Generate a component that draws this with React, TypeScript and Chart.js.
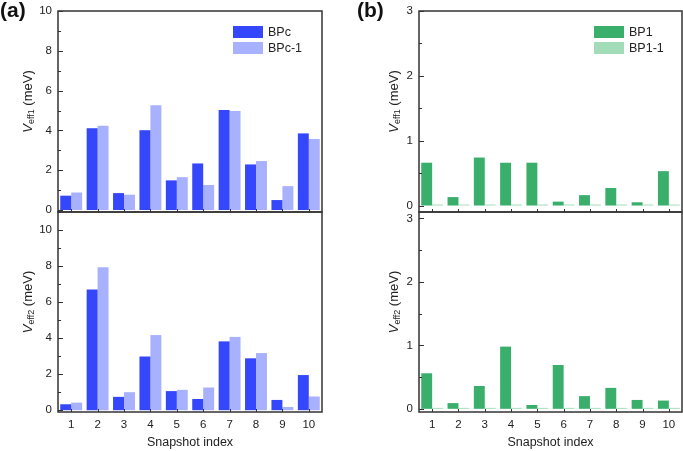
import React, { useEffect, useRef } from "react";
import { Chart, registerables } from "chart.js";
Chart.register(...registerables);

const snapshots = ["1", "2", "3", "4", "5", "6", "7", "8", "9", "10"];
const bpcVeff1 = [0.72, 4.11, 0.85, 4.01, 1.49, 2.34, 5.02, 2.29, 0.5, 3.85];
const bpc1Veff1 = [0.88, 4.24, 0.77, 5.27, 1.65, 1.26, 4.97, 2.46, 1.2, 3.57];
const bpcVeff2 = [0.33, 6.7, 0.74, 2.98, 1.06, 0.62, 3.82, 2.88, 0.57, 1.95];
const bpc1Veff2 = [0.42, 7.93, 1.0, 4.17, 1.13, 1.26, 4.07, 3.17, 0.18, 0.76];
const bp1Veff1 = [0.66, 0.13, 0.74, 0.66, 0.66, 0.06, 0.16, 0.27, 0.05, 0.53];
const bp11Veff1 = [0.015, 0.015, 0.015, 0.015, 0.015, 0.015, 0.015, 0.015, 0.015, 0.015];
const bp1Veff2 = [0.56, 0.09, 0.36, 0.98, 0.06, 0.69, 0.2, 0.33, 0.14, 0.13];
const bp11Veff2 = [0.015, 0.015, 0.015, 0.015, 0.015, 0.015, 0.015, 0.015, 0.015, 0.015];
const ticksA = [0, 2, 4, 6, 8, 10];
const ticksB = [0, 1, 2, 3];

const FONT = "'Liberation Sans', Arial, sans-serif";
const BLUE = "#3447fb";
const LBLUE = "#a8b1fd";
const GREEN = "#3aae6b";
const LGREEN = "#a2dcb9";

type Spec = {
  left: number;
  top: number;
  width: number;
  height: number;
  yWidth: number;
  pad: { left: number; right: number; top: number; bottom: number };
  xHeight: number | null;
  series: { label: string; data: number[]; color: string }[];
  yMin: number;
  yMax: number;
  majors: number[];
  minorStep: number;
  sub: string;
  titleX: number;
  legend: { x: number; y: number } | null;
  panelLabel: { text: string; x: number } | null;
  xTitleY: number | null;
};

function buildChart(canvas: HTMLCanvasElement, s: Spec) {
  const deco = {
    id: "deco",
    afterDraw(chart: any) {
      const ctx = chart.ctx;
      const a = chart.chartArea;
      const ys = chart.scales.y;
      const xs = chart.scales.x;
      ctx.save();
      ctx.strokeStyle = "#333";
      ctx.lineWidth = 1.5;
      ctx.strokeRect(a.left, a.top, a.right - a.left, a.bottom - a.top);
      ctx.lineWidth = 1;
      ctx.beginPath();
      for (const v of s.majors) {
        const y = Math.round(ys.getPixelForValue(v)) + 0.5;
        ctx.moveTo(a.left, y);
        ctx.lineTo(a.left + 5, y);
      }
      for (let v = s.minorStep; v < s.yMax; v += 2 * s.minorStep) {
        const y = Math.round(ys.getPixelForValue(v)) + 0.5;
        ctx.moveTo(a.left, y);
        ctx.lineTo(a.left + 3, y);
      }
      for (let i = 0; i < snapshots.length; i++) {
        const x = Math.round(xs.getPixelForValue(i)) + 0.5;
        ctx.moveTo(x, a.bottom);
        ctx.lineTo(x, a.bottom - 3);
      }
      ctx.stroke();

      // y title with subscript
      const cy = (a.top + a.bottom) / 2 - 10;
      ctx.translate(s.titleX, cy);
      ctx.rotate(-Math.PI / 2);
      ctx.fillStyle = "#222";
      ctx.textBaseline = "middle";
      ctx.textAlign = "left";
      const fMainI = `italic 13px ${FONT}`;
      const fMain = `13px ${FONT}`;
      const fSub = `9px ${FONT}`;
      ctx.font = fMainI;
      const w1 = ctx.measureText("V").width;
      ctx.font = fSub;
      const w2 = ctx.measureText(s.sub).width;
      ctx.font = fMain;
      const w3 = ctx.measureText(" (meV)").width;
      let x0 = -(w1 + w2 + w3) / 2;
      ctx.font = fMainI;
      ctx.fillText("V", x0, 0);
      x0 += w1;
      ctx.font = fSub;
      ctx.fillText(s.sub, x0, 4);
      x0 += w2;
      ctx.font = fMain;
      ctx.fillText(" (meV)", x0, 0);
      ctx.setTransform(1, 0, 0, 1, 0, 0);

      if (s.legend) {
        const L = s.legend;
        s.series.forEach((ser, i) => {
          const yy = L.y + i * 16;
          ctx.fillStyle = ser.color;
          ctx.fillRect(L.x, yy, 30, 12);
          ctx.fillStyle = "#222";
          ctx.font = `12.5px ${FONT}`;
          ctx.textBaseline = "middle";
          ctx.textAlign = "left";
          ctx.fillText(ser.label, L.x + 35, yy + 6.5);
        });
      }
      if (s.panelLabel) {
        ctx.fillStyle = "#111";
        ctx.font = `bold 21px ${FONT}`;
        ctx.textBaseline = "alphabetic";
        ctx.textAlign = "left";
        ctx.fillText(s.panelLabel.text, s.panelLabel.x, 17);
      }
      if (s.xTitleY !== null) {
        ctx.fillStyle = "#222";
        ctx.font = `12.5px ${FONT}`;
        ctx.textBaseline = "middle";
        ctx.textAlign = "center";
        ctx.fillText("Snapshot index", (a.left + a.right) / 2, s.xTitleY);
      }
      ctx.restore();
    },
  };

  return new Chart(canvas, {
    type: "bar",
    data: {
      labels: snapshots,
      datasets: s.series.map((ser) => ({
        label: ser.label,
        data: ser.data,
        backgroundColor: ser.color,
        borderWidth: 0,
        categoryPercentage: 0.83,
        barPercentage: 1,
      })),
    },
    options: {
      animation: false,
      responsive: false,
      maintainAspectRatio: false,
      layout: { padding: s.pad },
      plugins: { legend: { display: false }, tooltip: { enabled: false } },
      scales: {
        x: {
          display: s.xHeight !== null,
          grid: { display: false, drawTicks: false },
          border: { display: false },
          ticks: {
            color: "#222",
            font: { family: FONT, size: 11.5 },
            padding: 6,
            maxRotation: 0,
            autoSkip: false,
          },
          afterFit: (sc: any) => {
            if (s.xHeight !== null) sc.height = s.xHeight;
            sc.paddingLeft = 0;
            sc.paddingRight = 0;
          },
        },
        y: {
          min: s.yMin,
          max: s.yMax,
          grid: { display: false, drawTicks: false },
          border: { display: false },
          ticks: {
            color: "#222",
            font: { family: FONT, size: 11.5 },
            padding: 6,
          },
          afterBuildTicks: (sc: any) => {
            sc.ticks = s.majors.map((v) => ({ value: v }));
          },
          afterFit: (sc: any) => {
            sc.width = s.yWidth;
            sc.paddingTop = 0;
            sc.paddingBottom = 0;
          },
        },
      },
    },
    plugins: [deco],
  } as any);
}

const specs: Spec[] = [
  {
    left: 0, top: 0, width: 335, height: 213, yWidth: 58,
    pad: { left: 0, right: 13, top: 11, bottom: 1 }, xHeight: null,
    series: [
      { label: "BPc", data: bpcVeff1, color: BLUE },
      { label: "BPc-1", data: bpc1Veff1, color: LBLUE },
    ],
    yMin: -0.1, yMax: 10, majors: ticksA, minorStep: 1, sub: "eff1", titleX: 28,
    legend: { x: 233, y: 26 }, panelLabel: { text: "(a)", x: 0 }, xTitleY: null,
  },
  {
    left: 0, top: 211, width: 335, height: 240, yWidth: 58,
    pad: { left: 0, right: 13, top: 1, bottom: 0 }, xHeight: 39,
    series: [
      { label: "BPc", data: bpcVeff2, color: BLUE },
      { label: "BPc-1", data: bpc1Veff2, color: LBLUE },
    ],
    yMin: -0.1, yMax: 11, majors: ticksA, minorStep: 1, sub: "eff2", titleX: 28,
    legend: null, panelLabel: null, xTitleY: 232,
  },
  {
    left: 340, top: 0, width: 343, height: 213, yWidth: 79,
    pad: { left: 0, right: 1, top: 11, bottom: 1 }, xHeight: null,
    series: [
      { label: "BP1", data: bp1Veff1, color: GREEN },
      { label: "BP1-1", data: bp11Veff1, color: LGREEN },
    ],
    yMin: -0.1, yMax: 3, majors: ticksB, minorStep: 0.5, sub: "eff1", titleX: 54,
    legend: { x: 254, y: 26 }, panelLabel: { text: "(b)", x: 17 }, xTitleY: null,
  },
  {
    left: 340, top: 211, width: 343, height: 240, yWidth: 79,
    pad: { left: 0, right: 1, top: 1, bottom: 0 }, xHeight: 39,
    series: [
      { label: "BP1", data: bp1Veff2, color: GREEN },
      { label: "BP1-1", data: bp11Veff2, color: LGREEN },
    ],
    yMin: -0.05, yMax: 3.1, majors: ticksB, minorStep: 0.5, sub: "eff2", titleX: 54,
    legend: null, panelLabel: null, xTitleY: 232,
  },
];

function Panel({ spec }: { spec: Spec }) {
  const ref = useRef<HTMLCanvasElement | null>(null);
  useEffect(() => {
    if (!ref.current) return;
    const c = buildChart(ref.current, spec);
    return () => c.destroy();
  }, [spec]);
  return (
    <canvas
      ref={ref}
      width={spec.width}
      height={spec.height}
      style={{
        position: "absolute",
        left: spec.left,
        top: spec.top,
        width: spec.width,
        height: spec.height,
      }}
    />
  );
}

export default function App() {
  return (
    <div
      style={{
        position: "absolute",
        left: 0,
        top: 0,
        width: 683,
        height: 451,
        background: "#fff",
        overflow: "hidden",
      }}
    >
      {specs.map((s, i) => (
        <Panel key={i} spec={s} />
      ))}
    </div>
  );
}
